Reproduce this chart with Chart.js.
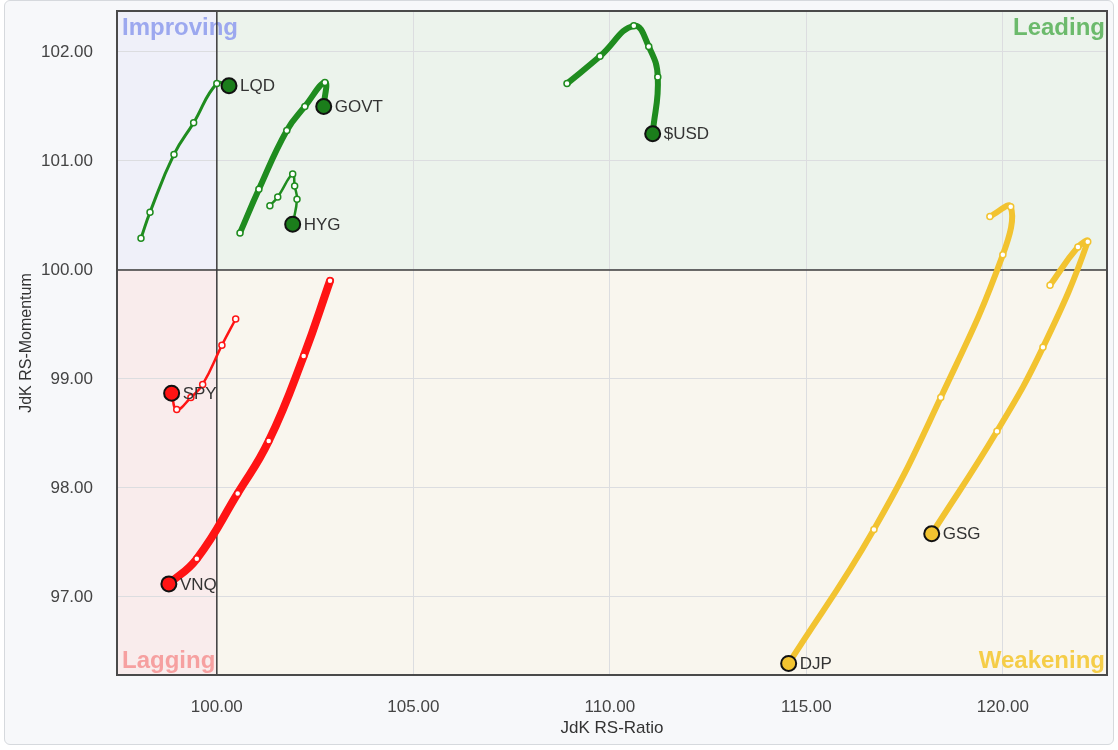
<!DOCTYPE html>
<html>
<head>
<meta charset="utf-8">
<script src="https://cdn.jsdelivr.net/npm/chart.js@4.4.0/dist/chart.umd.min.js"></script>
<style>
    body { margin: 0; background: #ffffff; font-family: "Liberation Sans", Arial, sans-serif; }
    #card {
        position: absolute; left: 4px; top: 0; width: 1108px; height: 743px;
        background: #f7f8fa; border: 1px solid #d6d9dd; border-radius: 6px;
    }
    #chartCanvas { position: absolute; left: 0; top: 0; }
</style>
</head>
<body>
<div id="card"></div>
<canvas id="chartCanvas" width="1118" height="750"></canvas>
<script>
// tick labels
const xTicks = [100, 105, 110, 115, 120];
const yTicks = [97, 98, 99, 100, 101, 102];

// symbols, oldest point first, head (latest) last
const symbols = ['LQD', 'GOVT', 'HYG', '$USD', 'SPY', 'VNQ', 'DJP', 'GSG'];

const lqdRatio = [98.07, 98.30, 98.91, 99.41, 100.00, 100.31];
const lqdMomentum = [100.29, 100.53, 101.06, 101.35, 101.71, 101.69];

const govtRatio = [100.59, 101.07, 101.78, 102.24, 102.75, 102.72];
const govtMomentum = [100.34, 100.74, 101.28, 101.50, 101.72, 101.50];

const hygRatio = [101.35, 101.55, 101.93, 101.98, 102.04, 101.93];
const hygMomentum = [100.59, 100.67, 100.88, 100.77, 100.65, 100.42];

const usdRatio = [108.91, 109.75, 110.61, 110.99, 111.22, 111.09];
const usdMomentum = [101.71, 101.96, 102.24, 102.05, 101.77, 101.25];

const spyRatio = [100.48, 100.13, 99.64, 99.34, 98.98, 98.85];
const spyMomentum = [99.55, 99.31, 98.95, 98.83, 98.72, 98.87];

const vnqRatio = [102.88, 102.21, 101.32, 100.53, 99.49, 98.78];
const vnqMomentum = [99.90, 99.21, 98.43, 97.95, 97.35, 97.12];

const djpRatio = [119.67, 120.20, 120.00, 118.42, 116.72, 114.55];
const djpMomentum = [100.49, 100.58, 100.14, 98.83, 97.62, 96.39];

const gsgRatio = [121.20, 121.91, 122.16, 121.02, 119.85, 118.19];
const gsgMomentum = [99.86, 100.21, 100.26, 99.29, 98.52, 97.58];

const seriesRatio = [lqdRatio, govtRatio, hygRatio, usdRatio, spyRatio, vnqRatio, djpRatio, gsgRatio];
const seriesMomentum = [lqdMomentum, govtMomentum, hygMomentum, usdMomentum, spyMomentum, vnqMomentum, djpMomentum, gsgMomentum];

const GREEN = '#1f8c1f', GREEN_HEAD = '#1b7d1b';
const RED = '#ff1414', YELLOW = '#f2c330';
const styles = [
    { color: GREEN, head: GREEN_HEAD, width: 3 },
    { color: GREEN, head: GREEN_HEAD, width: 6 },
    { color: GREEN, head: GREEN_HEAD, width: 2.5 },
    { color: GREEN, head: GREEN_HEAD, width: 6 },
    { color: RED, head: RED, width: 2.5 },
    { color: RED, head: RED, width: 8 },
    { color: YELLOW, head: YELLOW, width: 6 },
    { color: YELLOW, head: YELLOW, width: 6 }
];

const datasets = symbols.map((name, i) => {
    const st = styles[i];
    const last = seriesRatio[i].length - 1;
    return {
        label: name,
        data: seriesRatio[i].map((x, j) => ({ x: x, y: seriesMomentum[i][j] })),
        showLine: true,
        tension: 0.45,
        borderColor: st.color,
        borderWidth: st.width,
        borderCapStyle: 'round',
        borderJoinStyle: 'round',
        pointRadius: ctx => ctx.dataIndex === last ? 7.5 : 3,
        pointBorderWidth: ctx => ctx.dataIndex === last ? 2 : 1.5,
        pointBackgroundColor: ctx => ctx.dataIndex === last ? st.head : '#ffffff',
        pointBorderColor: ctx => ctx.dataIndex === last ? '#111111' : st.color
    };
});

// quadrant backgrounds, centre lines, labels, frame
const quadrantPlugin = {
    id: 'quadrants',
    beforeDraw(chart) {
        const { ctx, chartArea: a, scales } = chart;
        const cx = scales.x.getPixelForValue(100);
        const cy = scales.y.getPixelForValue(100);
        ctx.save();
        ctx.fillStyle = '#eff0f9'; ctx.fillRect(a.left, a.top, cx - a.left, cy - a.top);
        ctx.fillStyle = '#ecf3ec'; ctx.fillRect(cx, a.top, a.right - cx, cy - a.top);
        ctx.fillStyle = '#f9ecec'; ctx.fillRect(a.left, cy, cx - a.left, a.bottom - cy);
        ctx.fillStyle = '#f9f6ee'; ctx.fillRect(cx, cy, a.right - cx, a.bottom - cy);
        ctx.restore();
    },
    beforeDatasetsDraw(chart) {
        const { ctx, chartArea: a, scales } = chart;
        const cx = scales.x.getPixelForValue(100);
        const cy = scales.y.getPixelForValue(100);
        ctx.save();
        ctx.font = 'bold 24px "Liberation Sans", Arial, sans-serif';
        ctx.textBaseline = 'alphabetic';
        ctx.textAlign = 'left';
        ctx.fillStyle = '#9ca8ef'; ctx.fillText('Improving', a.left + 5, a.top + 24);
        ctx.fillStyle = '#f6a0a0'; ctx.fillText('Lagging', a.left + 5, a.bottom - 7);
        ctx.textAlign = 'right';
        ctx.fillStyle = '#6cba6c'; ctx.fillText('Leading', a.right - 2, a.top + 24);
        ctx.fillStyle = '#f5cd48'; ctx.fillText('Weakening', a.right - 2, a.bottom - 7);

        ctx.strokeStyle = '#3c3c3c';
        ctx.lineWidth = 1.5;
        ctx.beginPath();
        ctx.moveTo(cx, a.top); ctx.lineTo(cx, a.bottom);
        ctx.moveTo(a.left, cy); ctx.lineTo(a.right, cy);
        ctx.stroke();
        ctx.restore();
    },
    afterDatasetsDraw(chart) {
        const { ctx, chartArea: a } = chart;
        ctx.save();
        ctx.font = '17px "Liberation Sans", Arial, sans-serif';
        ctx.fillStyle = '#333333';
        ctx.textAlign = 'left';
        ctx.textBaseline = 'middle';
        chart.data.datasets.forEach((ds, i) => {
            const pts = chart.getDatasetMeta(i).data;
            const head = pts[pts.length - 1];
            ctx.fillText(ds.label, head.x + 11, head.y + 1);
        });
        ctx.strokeStyle = '#4a4a4a';
        ctx.lineWidth = 2;
        ctx.strokeRect(a.left, a.top, a.right - a.left, a.bottom - a.top);
        ctx.restore();
    }
};

const canvas = document.getElementById('chartCanvas');
const ctx = canvas.getContext('2d');

new Chart(ctx, {
    type: 'scatter',
    data: { datasets: datasets },
    options: {
        responsive: false,
        animation: false,
        layout: { padding: { top: 11, right: 11, left: 17, bottom: 10 } },
        plugins: {
            legend: { display: false },
            tooltip: { enabled: false }
        },
        scales: {
            x: {
                type: 'linear',
                min: 97.46,
                max: 122.65,
                afterBuildTicks: scale => { scale.ticks = xTicks.map(v => ({ value: v })); },
                afterFit: scale => {
                    scale.height = 65;
                    scale.paddingLeft = 0;
                    scale.paddingRight = 0;
                },
                border: { display: false },
                grid: { color: '#dcdde0', lineWidth: 1, drawTicks: false },
                ticks: {
                    padding: 22,
                    color: '#444444',
                    font: { size: 17, family: '"Liberation Sans", Arial, sans-serif' },
                    callback: v => Number(v).toFixed(2)
                },
                title: {
                    display: true,
                    text: 'JdK RS-Ratio',
                    color: '#333333',
                    padding: { top: 0, bottom: 1 },
                    font: { size: 17, family: '"Liberation Sans", Arial, sans-serif' }
                }
            },
            y: {
                type: 'linear',
                min: 96.284,
                max: 102.376,
                afterBuildTicks: scale => { scale.ticks = yTicks.map(v => ({ value: v })); },
                afterFit: scale => {
                    scale.width = 100;
                    scale.paddingTop = 0;
                    scale.paddingBottom = 0;
                },
                border: { display: false },
                grid: { color: '#dcdde0', lineWidth: 1, drawTicks: false },
                ticks: {
                    padding: 24,
                    color: '#444444',
                    font: { size: 17, family: '"Liberation Sans", Arial, sans-serif' },
                    callback: v => Number(v).toFixed(2)
                },
                title: {
                    display: true,
                    text: 'JdK RS-Momentum',
                    color: '#333333',
                    padding: { top: 0, bottom: 0 },
                    font: { size: 16, family: '"Liberation Sans", Arial, sans-serif' }
                }
            }
        }
    },
    plugins: [quadrantPlugin]
});
</script>
</body>
</html>
